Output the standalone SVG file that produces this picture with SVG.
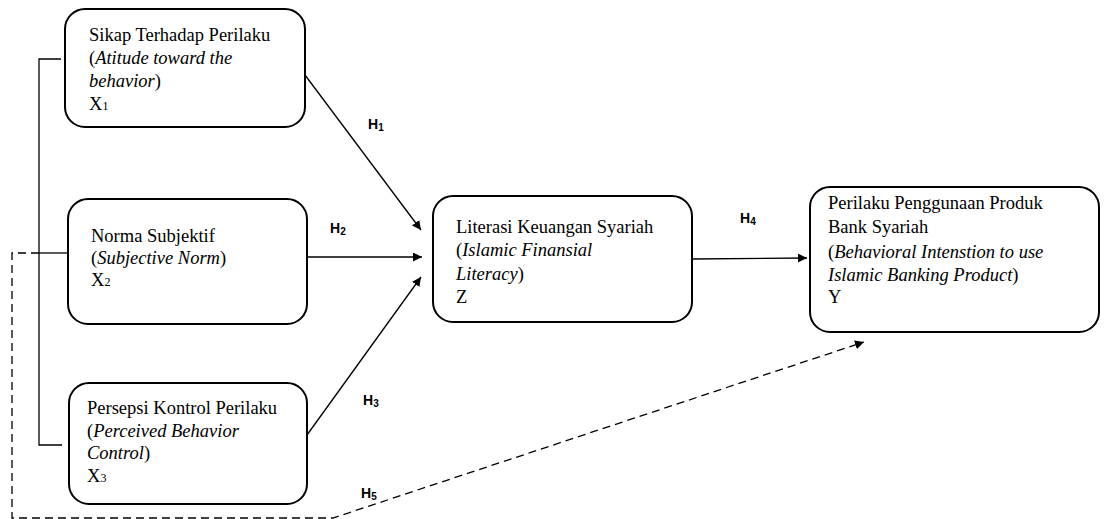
<svg xmlns="http://www.w3.org/2000/svg" width="1104" height="519" viewBox="0 0 1104 519">
  <style>
    .box { fill: #ffffff; stroke: #000000; stroke-width: 2; }
    .t { font-family: "Liberation Serif", "Times New Roman", serif; font-size: 18.5px; fill: #000000; }
    .i { font-style: italic; }
    .sub { font-size: 12px; }
    .h { font-family: "Liberation Sans", Arial, sans-serif; font-size: 14px; font-weight: bold; fill: #000000; }
    .hs { font-size: 10px; }
    .ln { fill: none; stroke: #000000; stroke-width: 1.3; }
    .dash { fill: none; stroke: #000000; stroke-width: 1.3; stroke-dasharray: 8 5; }
  </style>
  <defs>
    <marker id="arrow" viewBox="0 0 10 10" refX="10" refY="5" markerWidth="9" markerHeight="9" markerUnits="userSpaceOnUse" orient="auto">
      <path d="M0,0 L10,5 L0,10 z" fill="#000000"/>
    </marker>
  </defs>

  <rect width="1104" height="519" fill="#ffffff"/>

  <!-- connectors -->
  <g id="connectors">
    <!-- bracket joining the three exogenous variables -->
    <polyline class="ln" points="61,59 39,59 39,445 62,445"/>
    <line class="ln" x1="39" y1="253" x2="67" y2="253"/>
    <!-- H1..H3 into Z -->
    <line class="ln" x1="305" y1="75" x2="421" y2="230" marker-end="url(#arrow)"/>
    <line class="ln" x1="307" y1="257" x2="422" y2="257" marker-end="url(#arrow)"/>
    <line class="ln" x1="307" y1="435" x2="421" y2="277" marker-end="url(#arrow)"/>
    <!-- H4: Z to Y -->
    <line class="ln" x1="692" y1="259" x2="807" y2="258" marker-end="url(#arrow)"/>
    <!-- H5: dashed path to Y -->
    <polyline class="dash" points="39,253 12,253 12,518 333,518 864,342" marker-end="url(#arrow)"/>
  </g>

  <!-- hypothesis labels -->
  <g id="labels">
    <text class="h" x="368" y="129">H<tspan class="hs" dy="2">1</tspan></text>
    <text class="h" x="330" y="233">H<tspan class="hs" dy="2">2</tspan></text>
    <text class="h" x="363" y="405">H<tspan class="hs" dy="2">3</tspan></text>
    <text class="h" x="740" y="223">H<tspan class="hs" dy="2">4</tspan></text>
    <text class="h" x="361" y="498">H<tspan class="hs" dy="2">5</tspan></text>
  </g>

  <g id="node-x1">
    <rect class="box" x="65" y="9" width="240" height="118" rx="20"/>
    <text class="t" x="89" y="41">Sikap Terhadap Perilaku</text>
    <text class="t" x="89" y="64">(<tspan class="i">Atitude toward the</tspan></text>
    <text class="t" x="89" y="87"><tspan class="i">behavior</tspan>)</text>
    <text class="t" x="89" y="110">X<tspan class="sub">1</tspan></text>
  </g>

  <g id="node-x2">
    <rect class="box" x="68" y="199" width="239" height="125" rx="20"/>
    <text class="t" x="91" y="242">Norma Subjektif</text>
    <text class="t" x="91" y="264">(<tspan class="i">Subjective Norm</tspan>)</text>
    <text class="t" x="91" y="286">X<tspan class="sub">2</tspan></text>
  </g>

  <g id="node-x3">
    <rect class="box" x="69" y="383" width="238" height="121" rx="20"/>
    <text class="t" x="87" y="414">Persepsi Kontrol Perilaku</text>
    <text class="t" x="87" y="437">(<tspan class="i">Perceived Behavior</tspan></text>
    <text class="t" x="87" y="459"><tspan class="i">Control</tspan>)</text>
    <text class="t" x="87" y="482">X<tspan class="sub">3</tspan></text>
  </g>

  <g id="node-z">
    <rect class="box" x="433" y="196" width="259" height="126" rx="20"/>
    <text class="t" x="456" y="233">Literasi Keuangan Syariah</text>
    <text class="t" x="456" y="256">(<tspan class="i">Islamic Finansial</tspan></text>
    <text class="t" x="456" y="280"><tspan class="i">Literacy</tspan>)</text>
    <text class="t" x="456" y="303">Z</text>
  </g>

  <g id="node-y">
    <rect class="box" x="810" y="187" width="289" height="145" rx="20"/>
    <text class="t" x="828" y="209">Perilaku Penggunaan Produk</text>
    <text class="t" x="828" y="233">Bank Syariah</text>
    <text class="t" x="828" y="258">(<tspan class="i">Behavioral Intenstion to use</tspan></text>
    <text class="t" x="828" y="281"><tspan class="i">Islamic Banking Product</tspan>)</text>
    <text class="t" x="828" y="303">Y</text>
  </g>
</svg>
